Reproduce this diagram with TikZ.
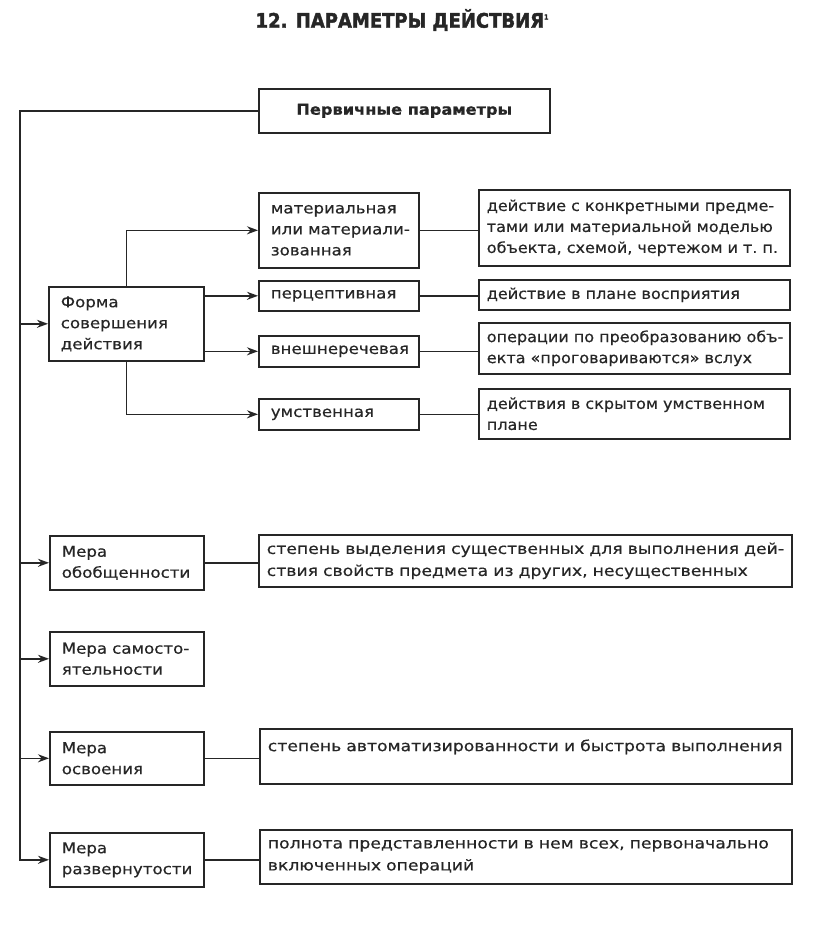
\documentclass[tikz,border=0pt]{standalone}
\usepackage{fontspec}
\setmainfont{DejaVu Sans}
\newfontfamily\boxfnt[FakeStretch=1.11,FakeBold=0.4]{DejaVu Sans}
\newfontfamily\descfnt[FakeStretch=1.07,FakeBold=0.4]{DejaVu Sans}
\newfontfamily\widefnt[FakeStretch=1.15,FakeBold=0.4]{DejaVu Sans}
\newfontfamily\topfnt[FakeStretch=1.08,FakeBold=0.8]{DejaVu Sans Bold}
\newfontfamily\titlefnt[FakeStretch=0.9,FakeBold=2]{DejaVu Sans Bold}
\usetikzlibrary{arrows.meta}
\definecolor{ink}{HTML}{262626}
\newcommand\rowt[1]{\mbox{#1}}
\begin{document}
\begin{tikzpicture}[x=1pt,y=-1pt,
  box/.style={draw=ink, text=ink, line width=1.6pt, anchor=north west, inner ysep=0pt, align=left,
    font=\boxfnt\fontsize{15}{21}\selectfont},
  lbox/.style={box, inner xsep=12pt},
  dbox/.style={box, inner xsep=8pt, font=\descfnt\fontsize{15}{21}\selectfont},
  wbox/.style={box, inner xsep=8pt, font=\widefnt\fontsize{15}{22}\selectfont},
  conn/.style={draw=ink, line width=1.6pt},
  arr/.style={conn, -{Stealth[length=11pt,width=8pt]}}]
\useasboundingbox (0,0) rectangle (816,937);
\fill[white] (0,0) rectangle (816,937);

\node[text=ink, font=\titlefnt\fontsize{20}{22}\selectfont] (title) at (402,20)
  {12. ПАРАМЕТРЫ ДЕЙСТВИЯ\raisebox{0.75ex}{\fontsize{7}{7}\selectfont 1}};

\node[box, inner xsep=0pt, minimum width=291pt, minimum height=44pt, align=center,
  font=\topfnt\fontsize{15}{21}\selectfont] (top) at (258,88) {Первичные параметры};

% left column
\node[lbox, text width=131pt, minimum height=74pt] (forma) at (48,286)
  {\rowt{Форма}\\\rowt{совершения}\\\rowt{действия}};
\node[lbox, text width=130pt, minimum height=54pt] (obob) at (49,535)
  {\rowt{Мера}\\\rowt{обобщенности}};
\node[lbox, text width=130pt, minimum height=54pt] (samo) at (49,631)
  {\rowt{Мера самосто-}\\\rowt{ятельности}};
\node[lbox, text width=130pt, minimum height=53pt] (osv) at (49,731)
  {\rowt{Мера}\\\rowt{освоения}};
\node[lbox, text width=130pt, minimum height=54pt] (razv) at (49,832)
  {\rowt{Мера}\\\rowt{развернутости}};

% middle column
\node[lbox, text width=136pt, minimum height=75pt] (mat) at (258,192)
  {\rowt{материальная}\\\rowt{или материали-}\\\rowt{зованная}};
\node[lbox, text width=136pt, minimum height=30pt] (perc) at (258,280) {\rowt{перцептивная}};
\node[lbox, text width=136pt, minimum height=31pt] (vnesh) at (258,335) {\rowt{внешнеречевая}};
\node[lbox, text width=136pt, minimum height=31pt] (umst) at (258,398) {\rowt{умственная}};

% right column
\node[dbox, text width=295pt, minimum height=76pt] (d1) at (478,189)
  {\rowt{действие с конкретными предме-}\\\rowt{тами или материальной моделью}\\\rowt{объекта, схемой, чертежом и т.\ п.}};
\node[dbox, text width=295pt, minimum height=30pt] (d2) at (478,279)
  {\rowt{действие в плане восприятия}};
\node[dbox, text width=295pt, minimum height=51pt] (d3) at (478,322)
  {\rowt{операции по преобразованию объ-}\\\rowt{екта «проговариваются» вслух}};
\node[dbox, text width=295pt, minimum height=50pt] (d4) at (478,388)
  {\rowt{действия в скрытом умственном}\\\rowt{плане}};
\node[wbox, text width=517pt, minimum height=52pt] (d5) at (258,534)
  {\rowt{степень выделения существенных для выполнения дей-}\\\rowt{ствия свойств предмета из других, несущественных}};
\node[wbox, text width=516pt, minimum height=55pt] (d6) at (259,728)
  {\rowt{степень автоматизированности и быстрота выполнения}\\\mbox{}};
\node[wbox, text width=516pt, minimum height=54pt] (d7) at (259,829)
  {\rowt{полнота представленности в нем всех, первоначально}\\\rowt{включенных операций}};

% trunk
\coordinate (tx) at (20,0);
\draw[arr] (top.west) -- (top.west -| tx) -- (tx |- razv.west) -- (razv.west);
\draw[arr] (tx |- forma.west) -- (forma.west);
\draw[arr] (tx |- obob.west) -- (obob.west);
\draw[arr] (tx |- samo.west) -- (samo.west);
\draw[arr] (tx |- osv.west) -- (osv.west);

% form branches
\draw[arr] (forma.north) -- (forma.north |- mat.west) -- (mat.west);
\draw[arr] (forma.south) -- (forma.south |- umst.west) -- (umst.west);
\draw[arr] (forma.east |- perc.west) -- (perc.west);
\draw[arr] (forma.east |- vnesh.west) -- (vnesh.west);

% description links
\draw[conn] (mat.east) -- (mat.east -| d1.west);
\draw[conn] (perc.east) -- (perc.east -| d2.west);
\draw[conn] (vnesh.east) -- (vnesh.east -| d3.west);
\draw[conn] (umst.east) -- (umst.east -| d4.west);
\draw[conn] (obob.east) -- (obob.east -| d5.west);
\draw[conn] (osv.east) -- (osv.east -| d6.west);
\draw[conn] (razv.east) -- (razv.east -| d7.west);
\end{tikzpicture}
\end{document}
